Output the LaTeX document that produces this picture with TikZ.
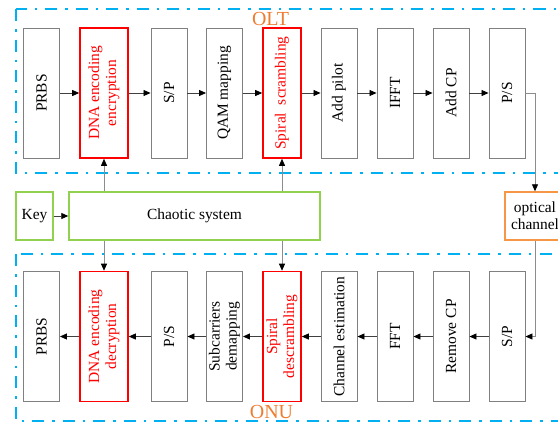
\documentclass[tikz,border=0pt]{standalone}
\usepackage{fontspec}
\setmainfont{Liberation Serif}
\usetikzlibrary{arrows.meta}
\definecolor{framecyan}{RGB}{0,176,240}
\definecolor{keygreen}{RGB}{146,208,80}
\definecolor{chanorange}{RGB}{247,150,70}
\definecolor{lblorange}{RGB}{237,125,49}
\tikzset{
  blk/.style={draw=black!50,line width=0.9bp,rotate=90,minimum width=130bp,minimum height=36bp,inner sep=0pt,align=center,font=\fontsize{15.5}{17}\selectfont},
  redblk/.style={blk,draw=red,line width=1.6bp,text=red},
  greenblk/.style={draw=keygreen,line width=1.4bp,minimum height=48bp,inner sep=0pt,font=\fontsize{15.5}{17}\selectfont},
  frame/.style={draw=framecyan,line width=1.8bp,dash pattern=on 12bp off 8bp on 2.5bp off 8bp},
  arr/.style={draw=black!75,line width=0.8bp,-{Triangle[length=7bp,width=6bp,black]}},
  varr/.style={arr,draw=black!45},
  lbl/.style={text=lblorange,font=\fontsize{20}{22}\selectfont}
}
\begin{document}
\begin{tikzpicture}[x=1bp,y=-1bp,line cap=butt,line join=miter]
\useasboundingbox (0,0) rectangle (558,422);
\clip (0,0) rectangle (558,422);
% frames
\draw [frame] (16,9) rectangle (620,173);
\draw [frame] (16,254) rectangle (620,421);
\node [lbl] at (270.5,19) {OLT};
\node [lbl] at (271.5,412) {ONU};
% OLT row
\node [blk] (prbs1) at (41.5,93) {PRBS};
\node [redblk,minimum height=48bp] (dnae) at (104,93) {DNA encoding\\encryption};
\node [blk] (sp1) at (169,93) {S/P};
\node [blk] (qam) at (224.5,93) {QAM mapping};
\node [redblk,minimum height=38bp] (spirs) at (282,93) {Spiral\ \ scrambling};
\node [blk] (pilot) at (339,93) {Add pilot};
\node [blk] (ifft) at (395,93) {IFFT};
\node [blk] (addcp) at (451,93) {Add CP};
\node [blk] (ps1) at (507,93) {P/S};
% key and chaos
\node [greenblk,minimum width=37bp] (key) at (34.5,216) {Key};
\node [greenblk,minimum width=251bp] (chaos) at (194.5,216) {Chaotic system};
\node [draw=chanorange,line width=1.4bp,minimum width=60bp,minimum height=48bp,inner sep=0pt,align=center,font=\fontsize{15.5}{17}\selectfont] (chan) at (535,216) {optical\\channel};
% ONU row
\node [blk] (prbs2) at (41.5,336.5) {PRBS};
\node [redblk,minimum height=48bp] (dnad) at (104,336.5) {DNA encoding\\decryption};
\node [blk] (ps2) at (169,336.5) {P/S};
\node [blk] (demap) at (224.5,336.5) {Subcarriers\\demapping};
\node [redblk,minimum height=38bp] (spird) at (282,336.5) {Spiral\\descrambling};
\node [blk] (chest) at (339,336.5) {Channel estimation};
\node [blk] (fft) at (395,336.5) {FFT};
\node [blk] (rmcp) at (451,336.5) {Remove CP};
\node [blk] (sp2) at (507,336.5) {S/P};
% arrows
\draw [arr] (prbs1) -- (dnae);
\draw [arr] (dnae) -- (sp1);
\draw [arr] (sp1) -- (qam);
\draw [arr] (qam) -- (spirs);
\draw [arr] (spirs) -- (pilot);
\draw [arr] (pilot) -- (ifft);
\draw [arr] (ifft) -- (addcp);
\draw [arr] (addcp) -- (ps1);
\draw [varr] (ps1) -| (chan);
\draw [varr] (chan) |- (sp2);
\draw [arr] (sp2) -- (rmcp);
\draw [arr] (rmcp) -- (fft);
\draw [arr] (fft) -- (chest);
\draw [arr] (chest) -- (spird);
\draw [arr] (spird) -- (demap);
\draw [arr] (demap) -- (ps2);
\draw [arr] (ps2) -- (dnad);
\draw [arr] (dnad) -- (prbs2);
\draw [arr] (key) -- (chaos);
\draw [varr] (dnae |- chaos.north) -- (dnae);
\draw [varr] (dnad |- chaos.south) -- (dnad);
\draw [varr] (spirs |- chaos.north) -- (spirs);
\draw [varr] (spird |- chaos.south) -- (spird);
\end{tikzpicture}
\end{document}
